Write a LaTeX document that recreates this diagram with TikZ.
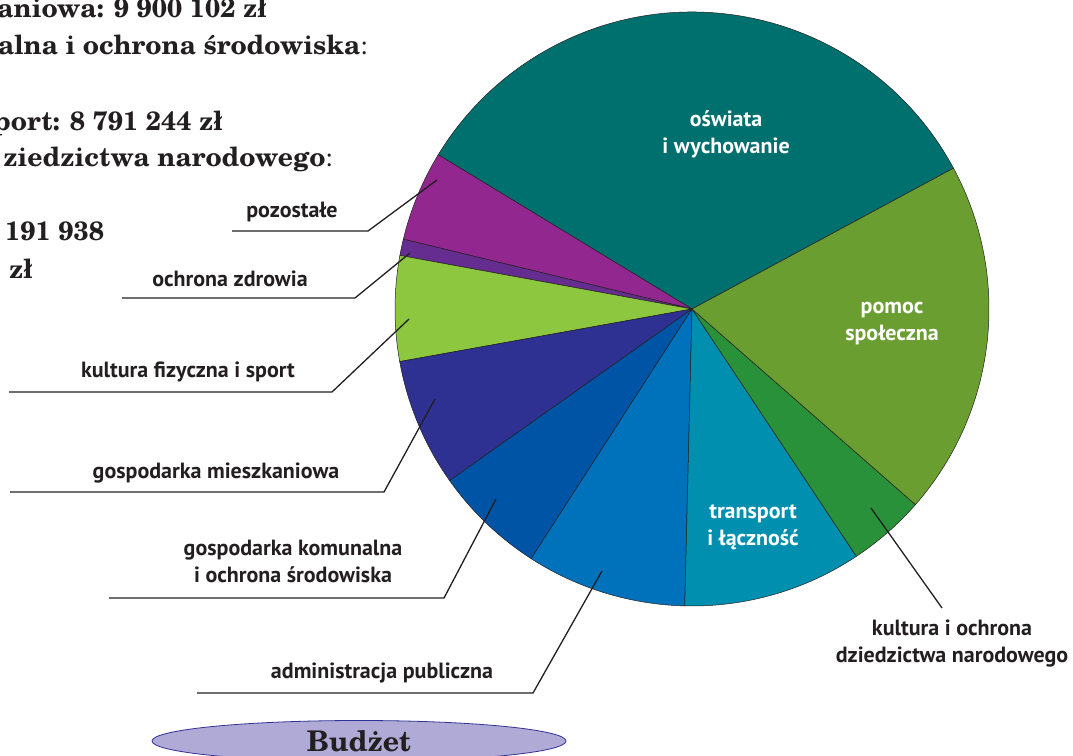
\documentclass[tikz,border=0pt]{standalone}
\usepackage{fontspec}
\newfontfamily\labfont{PT Sans}
\newfontfamily\serbold{texgyreschola-bold.otf}
\newfontfamily\serreg{texgyreschola-regular.otf}
\usetikzlibrary{calc,shapes.geometric}
\definecolor{cOsw}{RGB}{0,112,110}
\definecolor{cPoz}{RGB}{146,39,143}
\definecolor{cZdr}{RGB}{102,45,145}
\definecolor{cFiz}{RGB}{141,198,63}
\definecolor{cMie}{RGB}{46,49,146}
\definecolor{cKom}{RGB}{0,84,166}
\definecolor{cAdm}{RGB}{0,114,188}
\definecolor{cTra}{RGB}{0,143,175}
\definecolor{cKul}{RGB}{41,145,58}
\definecolor{cPom}{RGB}{107,158,49}
\definecolor{ink}{RGB}{35,31,32}
\definecolor{budfill}{RGB}{176,170,214}
\definecolor{budedge}{RGB}{50,50,150}
\begin{document}
\begin{tikzpicture}[x=1pt,y=-1pt,
  slice/.style={draw=ink,line width=0.5pt},
  leader/.style={draw=ink,line width=1.3pt},
  outlab/.style={font={\labfont\bfseries\fontsize{22}{27}\selectfont},text=ink,inner sep=0pt,align=center,anchor=base},
  inlab/.style={font={\labfont\bfseries\fontsize{22}{27}\selectfont},text=white,inner sep=0pt,align=center,anchor=base},
  sertext/.style={font={\serbold\fontsize{26.5}{30}\selectfont},text=ink,inner sep=0pt,anchor=base east},
  budzetbox/.style={ellipse,fill=budfill,draw=budedge,line width=0.8pt,minimum width=414pt,minimum height=41pt,inner sep=0pt,text height=20pt,text depth=0pt,font={\serbold\fontsize{28.5}{30}\selectfont},text=ink}
]
\useasboundingbox (0,0) rectangle (1073,755);
\clip (0,0) rectangle (1073,755);
\fill[white] (0,0) rectangle (1073,755);

% pie
\coordinate (c) at (692,309);
\foreach \a/\b/\col in {28.3/148.7/cOsw,148.7/166.4/cPoz,166.4/169.6/cZdr,169.6/190.2/cFiz,190.2/215.3/cMie,215.3/237.2/cKom,237.2/268.6/cAdm,268.6/303.6/cTra,303.6/318.8/cKul,318.8/388.3/cPom}{
  \filldraw[slice,fill=\col] (c) -- ($(c)+(\a:297pt)$) arc[start angle=\a,end angle=\b,radius=297pt] -- cycle;
}

% top-left text
\node[sertext] (t1) at (267,17) {aniowa: 9 900 102 zł};
\node[sertext] (t2) at (368,54) {alna i ochrona środowiska{\serreg:}};
\node[sertext] (t3) at (223,130) {port: 8 791 244 zł};
\node[sertext] (t4) at (333,166) {ziedzictwa narodowego{\serreg:}};
\node[sertext,anchor=base west] (t5) at (5,240) {191 938};
\node[sertext,anchor=base west] (t6) at (9,278) {zł};

% inner labels (anchor = baseline of last line)
\node[inlab] (osw) at (726,153) {oświata\\i wychowanie};
\node[inlab] (pom) at (892,340) {pomoc\\społeczna};
\node[inlab] (tra) at (753,545) {transport\\i łączność};

% outer labels
\node[outlab] (poz) at (292,217) {pozostałe};
\node[outlab] (zdr) at (230,286) {ochrona zdrowia};
\node[outlab] (fiz) at (188,377) {kultura fizyczna i sport};
\node[outlab] (mie) at (216,478) {gospodarka mieszkaniowa};
\node[outlab] (kom) at (293,582) {gospodarka komunalna\\i ochrona środowiska};
\node[outlab] (adm) at (382,678) {administracja publiczna};
\node[outlab] (kul) at (952,662) {kultura i ochrona\\dziedzictwa narodowego};

% leader coordinates
\coordinate (poz0) at (232,231); \coordinate (poz1) at (368,231); \coordinate (poz2) at (437,180);
\coordinate (zdr0) at (122,298); \coordinate (zdr1) at (355,298); \coordinate (zdr2) at (410,253);
\coordinate (fiz0) at (9,392);   \coordinate (fiz1) at (332,392); \coordinate (fiz2) at (409,319);
\coordinate (mie0) at (10,492);  \coordinate (mie1) at (384,492); \coordinate (mie2) at (435,399);
\coordinate (kom0) at (109,598); \coordinate (kom1) at (444,598); \coordinate (kom2) at (496,499);
\coordinate (adm0) at (197,693); \coordinate (adm1) at (533,693); \coordinate (adm2) at (602,571);
\coordinate (kul1) at (942,608); \coordinate (kul2) at (871,508);

\draw[leader] (poz0) -- (poz1) -- (poz2);
\draw[leader] (zdr0) -- (zdr1) -- (zdr2);
\draw[leader] (fiz0) -- (fiz1) -- (fiz2);
\draw[leader] (mie0) -- (mie1) -- (mie2);
\draw[leader] (kom0) -- (kom1) -- (kom2);
\draw[leader] (adm0) -- (adm1) -- (adm2);
\draw[leader] (kul1) -- (kul2);

% budget
\node[budzetbox] (bud) at (359,741) {Budżet};
\end{tikzpicture}
\end{document}
